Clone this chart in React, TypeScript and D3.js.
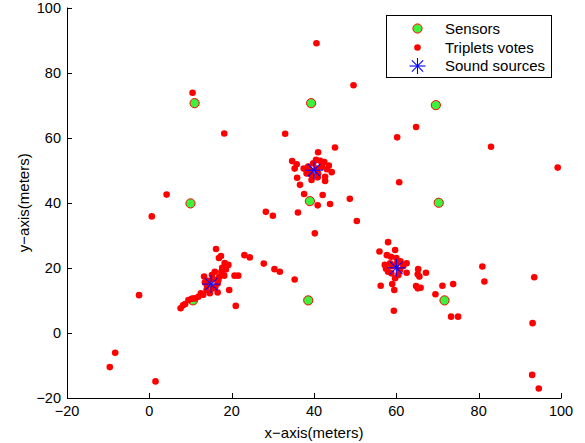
import React from "react";
import * as d3 from "d3";

const sensors: [number, number][] = [
  [11, 70.6], [39.3, 70.6], [69.6, 70], [10, 39.8], [39, 40.5], [70.3, 40],
  [38.6, 10], [10.6, 10], [71.7, 10],
];

const votes: [number, number][] = [
  // around source (15,15)
  [16.2, 25.8], [16.9, 23], [17.4, 23.6], [19.2, 20.9], [17.7, 20], [18.6, 19.5], [17.5, 18.8],
  [18.2, 17.6], [20.7, 17.6], [21.6, 17.6], [15.9, 18.8], [13.3, 17.3], [15.5, 16.5], [16.6, 15.2],
  [16.6, 12.4], [19.4, 13.2], [21, 8.3], [14.7, 12.2], [13.1, 11.7], [11.9, 11.1], [11.1, 10.6],
  [9.5, 10.1], [8.7, 8.9], [7.6, 7.6], [8.2, 8.5], [15.5, 13.7], [13.9, 13.2], [14.2, 16], [16, 14],
  [14, 14.5], [12.5, 12.2], [10.3, 10.5], [13.5, 15.5], [17, 17.3], [18.3, 21.5], [15.2, 17.8], [16.8, 16.3],
  [23.1, 23.9], [24.4, 23.2], [27.8, 21.3], [30.4, 19.6], [31.7, 18.8], [35.3, 16.4],
  [28.3, 37.2], [30, 36], [36.1, 37], [4.2, 42.5], [0.6, 35.8], [-2.5, 11.6],
  [-8.3, -6.1], [-9.6, -10.5], [1.5, -14.9],
  // upper scattered
  [40.6, 89], [10.5, 73.8], [18.2, 61.3], [33, 61.2], [49.6, 76.1], [64.8, 63.3], [60.2, 60.1],
  [83, 57.2], [99.2, 50.8], [60.7, 46.3],
  // around source (40,50)
  [38.2, 49], [38.6, 51.1], [39.8, 52.1], [41.5, 52.9], [41.9, 51.1], [40.7, 50.5], [43.1, 50.3],
  [43.6, 51.4], [44.3, 49.4], [42.7, 48], [42.7, 46.7], [40.9, 47.8], [39.4, 48.5], [39.4, 47],
  [40.5, 53.2], [42.5, 52.5], [41, 49], [39, 50], [37.5, 50.5], [45.1, 57], [41, 55.5], [34.7, 52.8],
  [35.8, 51.8], [35.3, 50.5], [35.9, 47.7], [36.6, 45.5], [37.6, 42.7], [42.1, 42.4], [43.9, 39.6],
  [40.9, 39.2], [48.7, 41.2], [40.2, 30.6], [50.4, 34.4],
  // around source (60,20)
  [58, 27.9], [59.7, 25.5], [55.9, 25], [57.7, 23.9], [58.7, 23.4], [57.2, 20.9], [58.5, 21.4],
  [62.5, 21.4], [61.7, 20.6], [62.5, 18.5], [60.5, 17.8], [59.7, 16.8], [58, 18.8], [58.8, 18.3],
  [60, 23], [60.9, 19.3], [59, 20.5], [61, 22], [57.5, 19.7], [60, 21.2], [65.3, 19.6], [67.2, 18.5],
  [65.2, 18], [65.6, 17.3], [64.8, 14.4], [65.9, 13.9], [65.2, 13.7], [56.2, 14.5], [59, 15],
  [59.5, 13.2], [69.5, 11.9], [71.2, 14.5], [73.8, 15], [73.3, 5], [75, 5], [59.4, 6.8],
  [80.9, 20.4], [81.4, 15.8],
  // right side
  [93.5, 17.1], [93.1, 3], [93, -12.9], [94.6, -17.1],
];

const sources: [number, number][] = [[15, 15], [40, 50], [60, 20]];

const xTicks = [-20, 0, 20, 40, 60, 80, 100];
const yTicks = [-20, 0, 20, 40, 60, 80, 100];
const legendLabels = ["Sensors", "Triplets votes", "Sound sources"];
const xLabel = "x\u2212axis(meters)";
const yLabel = "y\u2212axis(meters)";

const W = 585;
const H = 443;
const FONT = "'Liberation Sans', Arial, Helvetica, sans-serif";

function Star({ cx, cy, r }: { cx: number; cy: number; r: number }) {
  const d = r * 0.7;
  return (
    <g stroke="#0000ff" strokeWidth={1.1}>
      <line x1={cx - r} y1={cy} x2={cx + r} y2={cy} />
      <line x1={cx} y1={cy - r} x2={cx} y2={cy + r} />
      <line x1={cx - d} y1={cy - d} x2={cx + d} y2={cy + d} />
      <line x1={cx - d} y1={cy + d} x2={cx + d} y2={cy - d} />
    </g>
  );
}

export default function App() {
  const x = d3.scaleLinear().domain([-20, 100]).range([67, 561]);
  const y = d3.scaleLinear().domain([-20, 100]).range([398, 7.5]);
  const [x0, x1] = x.range();
  const [y0, y1] = y.range();
  const tl = 5;

  const fmt = (v: number) => (v < 0 ? "\u2212" + Math.abs(v) : String(v));

  const lx = 386, ly = 15, lw = 165, lh = 62;
  const rows = [28.5, 47.5, 66];
  const mx = 417.5, tx = 445;

  return (
    <svg
      width={W}
      height={H}
      style={{ position: "absolute", left: 0, top: 0, background: "#fff" }}
      fontFamily={FONT}
    >
      <rect x={0} y={0} width={W} height={H} fill="#fff" />
      {/* axes */}
      <g stroke="#000" strokeWidth={1} fill="none">
        <line x1={x0} y1={y0 + 0.5} x2={x1 + 0.5} y2={y0 + 0.5} />
        <line x1={x0 + 0.5} y1={y0} x2={x0 + 0.5} y2={y1} />
        {xTicks.map((t) => (
          <line key={"xt" + t} x1={Math.round(x(t)) + 0.5} x2={Math.round(x(t)) + 0.5} y1={y0} y2={y0 - tl} />
        ))}
        {yTicks.map((t) => (
          <line key={"yt" + t} x1={x0} x2={x0 + tl} y1={Math.round(y(t)) + 0.5} y2={Math.round(y(t)) + 0.5} />
        ))}
      </g>
      <g fontSize={14.5} fill="#000">
        {xTicks.map((t) => (
          <text key={"xl" + t} x={x(t)} y={416} textAnchor="middle">{fmt(t)}</text>
        ))}
        {yTicks.map((t) => (
          <text key={"yl" + t} x={x0 - 6} y={y(t) + 5} textAnchor="end">{fmt(t)}</text>
        ))}
      </g>
      <g fontSize={15} fill="#000">
        <text x={(x0 + x1) / 2} y={438} textAnchor="middle">{xLabel}</text>
        <text
          transform={`translate(29,${(y0 + y1) / 2}) rotate(-90)`}
          textAnchor="middle"
        >
          {yLabel}
        </text>
      </g>
      {/* sensors */}
      <g>
        {sensors.map((p, i) => (
          <circle key={"s" + i} cx={x(p[0])} cy={y(p[1])} r={4.6} fill="#3df23d" stroke="#ff0000" strokeWidth={1} />
        ))}
      </g>
      {/* votes */}
      <g fill="#ff0000">
        {votes.map((p, i) => (
          <circle key={"v" + i} cx={x(p[0])} cy={y(p[1])} r={3.3} />
        ))}
      </g>
      {/* sources */}
      {sources.map((p, i) => (
        <Star key={"src" + i} cx={x(p[0])} cy={y(p[1])} r={9} />
      ))}
      {/* legend */}
      <rect x={lx + 0.5} y={ly + 0.5} width={lw} height={lh} fill="#fff" stroke="#000" strokeWidth={1} />
      <circle cx={mx} cy={rows[0]} r={4.6} fill="#3df23d" stroke="#ff0000" strokeWidth={1} />
      <circle cx={mx} cy={rows[1]} r={3.3} fill="#ff0000" />
      <Star cx={mx} cy={rows[2]} r={8} />
      <g fontSize={15} fill="#000">
        {legendLabels.map((l, i) => (
          <text key={l} x={tx} y={rows[i] + 5}>{l}</text>
        ))}
      </g>
    </svg>
  );
}
